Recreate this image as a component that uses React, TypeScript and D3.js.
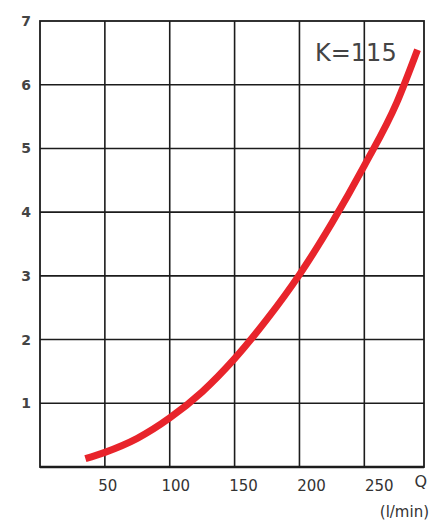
import React, { useEffect, useRef } from 'react';
import * as d3 from 'd3';

// Flow (l/min) and pressure drop
const flowQ = [35, 50, 75, 100, 125, 150, 175, 200, 225, 250, 275, 291];
const pressure = [0.13, 0.23, 0.45, 0.77, 1.18, 1.7, 2.32, 3.02, 3.83, 4.73, 5.72, 6.55];

const xTicks = [50, 100, 150, 200, 250];
const yTicks = [1, 2, 3, 4, 5, 6, 7];
const curveLabel = 'K=115';
const xUnit = 'Q';
const xUnitSub = '(l/min)';

const App = () => {
  const svgRef = useRef<SVGSVGElement>(null);

  useEffect(() => {
    const svg = d3.select(svgRef.current);
    svg.selectAll('*').remove();

    const left = 40, right = 424, top = 21, bottom = 467;

    const x = d3.scaleLinear().domain([0, 296]).range([left, right]);
    const y = d3.scaleLinear().domain([0, 7]).range([bottom, top]);

    const gridColor = '#1c1c1c';
    const font = 'DejaVu Sans, Verdana, sans-serif';

    // grid
    const grid = svg.append('g');
    grid.selectAll('.vgrid')
      .data(xTicks)
      .enter().append('line')
      .attr('x1', d => x(d)).attr('x2', d => x(d))
      .attr('y1', top).attr('y2', bottom)
      .attr('stroke', gridColor)
      .attr('stroke-width', 1.6);

    grid.selectAll('.hgrid')
      .data(yTicks.filter(d => d < 7))
      .enter().append('line')
      .attr('x1', left).attr('x2', right)
      .attr('y1', d => y(d)).attr('y2', d => y(d))
      .attr('stroke', gridColor)
      .attr('stroke-width', 1.6);

    // frame
    svg.append('rect')
      .attr('x', left).attr('y', top)
      .attr('width', right - left).attr('height', bottom - top)
      .attr('fill', 'none')
      .attr('stroke', gridColor)
      .attr('stroke-width', 1.8);

    svg.append('line')
      .attr('x1', left).attr('x2', right)
      .attr('y1', bottom).attr('y2', bottom)
      .attr('stroke', gridColor)
      .attr('stroke-width', 2.4);

    // y labels
    svg.selectAll('.ylab')
      .data(yTicks)
      .enter().append('text')
      .attr('x', 31)
      .attr('y', d => y(d) + 5)
      .attr('text-anchor', 'end')
      .attr('font-family', font)
      .attr('font-size', 14)
      .attr('font-weight', 'bold')
      .attr('fill', '#444')
      .text(d => d);

    // x labels
    svg.selectAll('.xlab')
      .data(xTicks)
      .enter().append('text')
      .attr('x', (d, i) => x(d) + 3 + i * 3)
      .attr('y', bottom + 24)
      .attr('text-anchor', 'middle')
      .attr('font-family', font)
      .attr('font-size', 15)
      .attr('fill', '#333')
      .text(d => d);

    svg.append('text')
      .attr('x', 427)
      .attr('y', bottom + 20)
      .attr('text-anchor', 'end')
      .attr('font-family', font)
      .attr('font-size', 16)
      .attr('fill', '#333')
      .text(xUnit);

    svg.append('text')
      .attr('x', 429)
      .attr('y', 517)
      .attr('text-anchor', 'end')
      .attr('font-family', font)
      .attr('font-size', 15)
      .attr('fill', '#333')
      .text(xUnitSub);

    // curve
    const pts = flowQ.map((q, i) => [q, pressure[i]] as [number, number]);
    const line = d3.line<[number, number]>()
      .x(d => x(d[0]))
      .y(d => y(d[1]))
      .curve(d3.curveMonotoneX);

    svg.append('path')
      .datum(pts)
      .attr('d', line)
      .attr('fill', 'none')
      .attr('stroke', '#e8242b')
      .attr('stroke-width', 7)
      .attr('stroke-linecap', 'butt');

    svg.append('text')
      .attr('x', 315)
      .attr('y', 61)
      .attr('font-family', font)
      .attr('font-size', 24)
      .attr('fill', '#444')
      .text(curveLabel);
  }, []);

  return (
    <svg
      ref={svgRef}
      width={429}
      height={524}
      style={{ position: 'absolute', left: 0, top: 0, background: '#fff' }}
    />
  );
};

export default App;
